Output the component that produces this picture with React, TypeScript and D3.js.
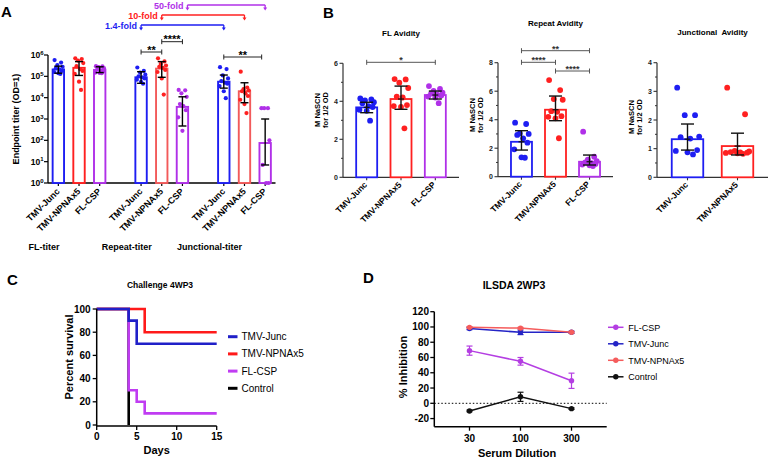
import React from "react";
import * as d3 from "d3";

const FONT = "'Liberation Sans', Arial, Helvetica, sans-serif";

const BLUE = "#1e1ef2";
const RED = "#ff2020";
const RED_LIGHT = "#f25a5a";
const PURPLE = "#b030e8";

// ---------------- Panel A : endpoint titers ----------------
const titerCategories = ["TMV-Junc", "TMV-NPNAx5", "FL-CSP"];
const titerGroups = ["FL-titer", "Repeat-titer", "Junctional-titer"];
const titerTicks = [1, 10, 100, 1e3, 1e4, 1e5, 1e6];

const flTiterMean = [2.1e5, 2.5e5, 2.0e5];
const flTiterHi = [3.0e5, 4.9e5, 2.8e5];
const flTiterLo = [1.4e5, 1.1e5, 1.5e5];
const flTiterPoints = [
  [5.8e5, 4.4e5, 3.4e5, 2.8e5, 2.4e5, 2.1e5, 1.8e5, 1.6e5, 1.4e5, 1.3e5],
  [7.0e5, 6.5e5, 5.5e5, 4.2e5, 3.0e5, 2.2e5, 1.8e5, 1.3e5, 5.6e4, 2.3e4],
  [3.0e5, 2.9e5, 2.7e5, 2.4e5, 2.1e5, 1.9e5, 1.7e5, 1.5e5, 1.45e5, 1.4e5],
];

const repeatTiterMean = [9.0e4, 2.3e5, 3.7e3];
const repeatTiterHi = [1.65e5, 4.9e5, 1.1e4];
const repeatTiterLo = [4.7e4, 9.0e4, 4.7e2];
const repeatTiterPoints = [
  [2.6e5, 1.8e5, 1.5e5, 1.2e5, 1.0e5, 9.0e4, 8.0e4, 7.0e4, 5.5e4, 4.5e4],
  [7.0e5, 5.0e5, 3.8e5, 3.2e5, 2.8e5, 2.5e5, 2.0e5, 1.6e5, 8.0e4, 1.4e4],
  [2.3e4, 2.2e4, 1.6e4, 1.1e4, 5.0e3, 4.0e3, 2.6e3, 1.2e3, 2.8e2],
];

const juncTiterMean = [5.6e4, 2.0e4, 75];
const juncTiterHi = [1.15e5, 5.0e4, 1.0e3];
const juncTiterLo = [2.8e4, 5.8e3, 7];
const juncTiterPoints = [
  [2.7e5, 2.2e5, 1.1e5, 8.0e4, 6.0e4, 5.0e4, 4.5e4, 3.5e4, 2.0e4, 9.5e3],
  [1.65e5, 3.0e4, 2.5e4, 2.2e4, 2.0e4, 1.6e4, 1.2e4, 8.0e3, 5.0e3, 1.9e3],
  [3.2e3, 3.2e3, 3.2e3, 100, 7, 1, 1],
];

const foldLabels = ["1.4-fold", "10-fold", "50-fold"];

// ---------------- Panel B : avidity ----------------
const avCats3 = ["TMV-Junc", "TMV-NPNAx5", "FL-CSP"];
const avCats2 = ["TMV-Junc", "TMV-NPNAx5"];

const flAvMean = [3.68, 4.12, 4.33];
const flAvHi = [3.95, 4.8, 4.54];
const flAvLo = [3.4, 3.58, 4.12];
const flAvPoints = [
  [4.15, 4.1, 4.05, 3.95, 3.9, 3.75, 3.7, 3.55, 3.5, 2.98],
  [5.17, 5.15, 4.98, 4.7, 4.25, 4.2, 3.8, 3.75, 3.7, 2.58],
  [4.8, 4.65, 4.55, 4.45, 4.4, 4.35, 4.3, 4.25, 4.2, 3.9],
];

const repAvMean = [2.45, 4.7, 1.05];
const repAvHi = [3.23, 5.66, 1.52];
const repAvLo = [1.87, 3.93, 0.82];
const repAvPoints = [
  [3.79, 3.7, 3.04, 3.0, 2.93, 2.69, 2.39, 1.92, 1.36, 1.33],
  [6.78, 6.08, 5.45, 5.4, 4.6, 4.55, 4.25, 4.2, 4.1, 2.7],
  [3.16, 1.4, 1.2, 1.1, 1.0, 0.95, 0.9, 0.85, 0.8, 0.75],
];

const juncAvMean = [1.33, 1.09];
const juncAvHi = [1.86, 1.54];
const juncAvLo = [0.95, 0.78];
const juncAvPoints = [
  [3.13, 2.17, 2.17, 1.42, 1.4, 1.35, 0.95, 0.92, 0.87, 0.8],
  [3.13, 2.2, 0.92, 0.9, 0.88, 0.87, 0.86, 0.85, 0.84, 0.82],
];

// ---------------- Panel C : survival ----------------
const survNames = ["TMV-Junc", "TMV-NPNAx5", "FL-CSP", "Control"];
const survJuncDays = [0, 4, 5, 15];
const survJuncPct = [100, 90, 70, 70];
const survNpnaDays = [0, 6, 15];
const survNpnaPct = [100, 80, 80];
const survFlDays = [0, 4, 5, 6, 15];
const survFlPct = [100, 30, 20, 10, 10];
const survCtrlDays = [0, 4];
const survCtrlPct = [100, 0];
const survXTicks = [0, 5, 10, 15];
const survYTicks = [0, 20, 40, 60, 80, 100];

// ---------------- Panel D : ILSDA ----------------
const dilutions = ["30", "100", "300"];
const ilsdaNames = ["FL-CSP", "TMV-Junc", "TMV-NPNAx5", "Control"];
const ilsdaFl = [69, 55, 29.5];
const ilsdaFlErr = [6, 5, 10];
const ilsdaJunc = [98, 93, 93];
const ilsdaJuncErr = [1.5, 3, 1.5];
const ilsdaNpna = [99.5, 98.5, 93];
const ilsdaNpnaErr = [1, 1, 1];
const ilsdaCtrl = [-10, 8.5, -7];
const ilsdaCtrlErr = [1, 6, 1];
const ilsdaYTicks = [-20, 0, 20, 40, 60, 80, 100, 120];

// horizontal spread pattern for scatter dots (layout only)
const spread = [-0.75, 0.55, -0.2, 0.85, -0.5, 0.2, 0.7, -0.85, 0.0, 0.4];

function PanelA() {
  const x = d3.scalePoint<number>().domain(d3.range(11)).range([48, 275.5]).padding(0.5);
  const y = d3.scaleLog().domain([1, 1e6]).range([183, 55]);
  const slot = (g: number, c: number) => g * 4 + c;
  const colors = [BLUE, RED, PURPLE];
  const groups = [
    { mean: flTiterMean, hi: flTiterHi, lo: flTiterLo, pts: flTiterPoints, bar: [BLUE, RED, PURPLE] },
    { mean: repeatTiterMean, hi: repeatTiterHi, lo: repeatTiterLo, pts: repeatTiterPoints, bar: [BLUE, RED_LIGHT, PURPLE] },
    { mean: juncTiterMean, hi: juncTiterHi, lo: juncTiterLo, pts: juncTiterPoints, bar: [BLUE, RED_LIGHT, PURPLE] },
  ];
  const y0 = 183;
  const bw = 11.4;
  const sig = [
    { a: slot(1, 0), b: slot(1, 1), ly: 52, t: "**" },
    { a: slot(1, 1), b: slot(1, 2), ly: 41.7, t: "****" },
    { a: slot(2, 0), b: slot(2, 2), ly: 57, t: "**" },
  ];
  const folds = [
    { c: 0, ly: 25, col: BLUE },
    { c: 1, ly: 15, col: RED },
    { c: 2, ly: 5, col: PURPLE },
  ];
  return (
    <g>
      <text x={1} y={17} fontSize={15} fontWeight="bold">A</text>
      {/* y axis */}
      <line x1={48} x2={48} y1={55} y2={y0} stroke="#000" strokeWidth={1.3} />
      {titerTicks.map((t, i) => (
        <g key={i}>
          <line x1={44} x2={48} y1={y(t)} y2={y(t)} stroke="#000" strokeWidth={1.2} />
          <text x={43.5} y={y(t) + 3} textAnchor="end" fontSize={8.5} fontWeight="bold">
            10<tspan dy={-3.5} fontSize={6}>{i}</tspan>
          </text>
        </g>
      ))}
      <text transform={`translate(19,119) rotate(-90)`} textAnchor="middle" fontSize={9} fontWeight="bold">
        Endpoint titer (OD=1)
      </text>
      {/* x axis */}
      <line x1={48} x2={275.5} y1={y0} y2={y0} stroke="#000" strokeWidth={1.3} />
      {groups.map((g, gi) =>
        titerCategories.map((cat, ci) => {
          const cx = x(slot(gi, ci))!;
          return (
            <g key={`${gi}-${ci}`}>
              <line x1={cx} x2={cx} y1={y0} y2={y0 + 3} stroke="#000" strokeWidth={1.2} />
              <text transform={`translate(${cx + 2},${y0 + 9}) rotate(-45)`} textAnchor="end" fontSize={9} fontWeight="bold">
                {cat}
              </text>
              <rect x={cx - bw / 2} y={y(g.mean[ci])} width={bw} height={y0 - y(g.mean[ci])} fill="#fff" stroke={g.bar[ci]} strokeWidth={1.9} />
              {g.pts[ci].map((v, pi) => (
                <circle key={pi} cx={cx + spread[pi % spread.length] * 5} cy={y(v)} r={2.1} fill={colors[ci]} />
              ))}
              <line x1={cx} x2={cx} y1={y(g.hi[ci])} y2={y(g.lo[ci])} stroke="#000" strokeWidth={1.4} />
              <line x1={cx - 4} x2={cx + 4} y1={y(g.hi[ci])} y2={y(g.hi[ci])} stroke="#000" strokeWidth={1.4} />
              <line x1={cx - 4} x2={cx + 4} y1={y(g.lo[ci])} y2={y(g.lo[ci])} stroke="#000" strokeWidth={1.4} />
            </g>
          );
        })
      )}
      {titerGroups.map((gname, gi) => (
        <text key={gname} x={x(slot(gi, 1))! - 35} y={250} textAnchor="middle" fontSize={9} fontWeight="bold">
          {gname}
        </text>
      ))}
      {sig.map((s, i) => {
        const xa = x(s.a)!, xb = x(s.b)! - (i === 2 ? 3.5 : 0);
        return (
          <g key={i}>
            <line x1={xa} x2={xb} y1={s.ly} y2={s.ly} stroke="#222" strokeWidth={1} />
            <line x1={xa} x2={xa} y1={s.ly - 2.5} y2={s.ly + 2.5} stroke="#222" strokeWidth={1} />
            <line x1={xb} x2={xb} y1={s.ly - 2.5} y2={s.ly + 2.5} stroke="#222" strokeWidth={1} />
            <text x={(xa + xb) / 2} y={s.ly + 1.5} textAnchor="middle" fontSize={11} fontWeight="bold">{s.t}</text>
          </g>
        );
      })}
      {folds.map((f, i) => {
        const xa = x(slot(1, f.c))! + (f.c === 2 ? 5 : 0);
        const xb = x(slot(2, f.c))!;
        return (
          <g key={i}>
            <line x1={xa} x2={xb} y1={f.ly} y2={f.ly} stroke={f.col} strokeWidth={1.3} />
            {[xa, xb].map((xx, k) => (
              <g key={k}>
                <line x1={xx} x2={xx} y1={f.ly} y2={f.ly + 3} stroke={f.col} strokeWidth={1.3} />
                <path d={`M${xx - 2},${f.ly + 2.5}L${xx + 2},${f.ly + 2.5}L${xx},${f.ly + 5.5}Z`} fill={f.col} />
              </g>
            ))}
            <text x={xa - 4} y={f.ly + 3.5} textAnchor="end" fontSize={9} fontWeight="bold" fill={f.col}>
              {foldLabels[i]}
            </text>
          </g>
        );
      })}
    </g>
  );
}

type AvProps = {
  axisX: number; axisEnd: number; y0: number; y1: number; max: number;
  major: number[]; minor: number[]; cats: string[]; mean: number[]; hi: number[]; lo: number[];
  pts: number[][]; barW: number; padding: number; title: string; titleY: number; labelY: number;
  sig: { a: number; b: number; ly: number; t: string }[];
};

function Avidity(p: AvProps) {
  const x = d3.scalePoint<string>().domain(p.cats).range([p.axisX, p.axisEnd]).padding(p.padding);
  const y = d3.scaleLinear().domain([0, p.max]).range([p.y0, p.y1]);
  const colors = [BLUE, RED, PURPLE];
  const cap = 6.5;
  return (
    <g>
      <text x={(p.axisX + p.axisEnd) / 2} y={p.titleY} textAnchor="middle" fontSize={8} fontWeight="bold" style={{ whiteSpace: "pre" }}>
        {p.title}
      </text>
      <line x1={p.axisX} x2={p.axisX} y1={p.y1} y2={p.y0} stroke="#333" strokeWidth={1.2} />
      <line x1={p.axisX} x2={p.axisEnd} y1={p.y0} y2={p.y0} stroke="#333" strokeWidth={1.2} />
      {p.major.map((t) => (
        <g key={t}>
          <line x1={p.axisX - 3.5} x2={p.axisX} y1={y(t)} y2={y(t)} stroke="#333" strokeWidth={1.1} />
          <text x={p.axisX - 5} y={y(t) + 2.5} textAnchor="end" fontSize={7} fontWeight="bold" fill="#222">{t}</text>
        </g>
      ))}
      {p.minor.map((t) => (
        <line key={t} x1={p.axisX - 2} x2={p.axisX} y1={y(t)} y2={y(t)} stroke="#333" strokeWidth={1} />
      ))}
      <text transform={`translate(${p.axisX - 23.5},${p.labelY}) rotate(-90)`} textAnchor="middle" fontSize={7.5} fontWeight="bold">
        M NaSCN
      </text>
      <text transform={`translate(${p.axisX - 15.5},${p.labelY}) rotate(-90)`} textAnchor="middle" fontSize={7.5} fontWeight="bold">
        for 1/2 OD
      </text>
      {p.cats.map((c, ci) => {
        const cx = x(c)!;
        return (
          <g key={c}>
            <line x1={cx} x2={cx} y1={p.y0} y2={p.y0 + 3} stroke="#333" strokeWidth={1.1} />
            <text transform={`translate(${cx + 1},${p.y0 + 8}) rotate(-45)`} textAnchor="end" fontSize={8.5} fontWeight="bold">
              {c}
            </text>
            <rect x={p.axisX === 0 ? 0 : cx - p.barW / 2} y={y(p.mean[ci])} width={p.barW} height={p.y0 - y(p.mean[ci])} fill="#fff" stroke={colors[ci]} strokeWidth={1.8} />
            {p.pts[ci].map((v, pi) => (
              <circle key={pi} cx={cx + spread[pi % spread.length] * (p.barW / 2 - 2)} cy={y(v)} r={2.9} fill={colors[ci]} />
            ))}
            <line x1={cx} x2={cx} y1={y(p.hi[ci])} y2={y(p.lo[ci])} stroke="#111" strokeWidth={1.4} />
            <line x1={cx - cap} x2={cx + cap} y1={y(p.hi[ci])} y2={y(p.hi[ci])} stroke="#111" strokeWidth={1.4} />
            <line x1={cx - cap} x2={cx + cap} y1={y(p.lo[ci])} y2={y(p.lo[ci])} stroke="#111" strokeWidth={1.4} />
            <line x1={cx - 3} x2={cx + 3} y1={y(p.mean[ci])} y2={y(p.mean[ci])} stroke="#111" strokeWidth={1.2} />
          </g>
        );
      })}
      {p.sig.map((s, i) => {
        const xa = x(p.cats[s.a])!, xb = x(p.cats[s.b])!;
        return (
          <g key={i}>
            <line x1={xa} x2={xb} y1={s.ly} y2={s.ly} stroke="#555" strokeWidth={1} />
            <line x1={xa} x2={xa} y1={s.ly - 2.5} y2={s.ly + 2.5} stroke="#555" strokeWidth={1} />
            <line x1={xb} x2={xb} y1={s.ly - 2.5} y2={s.ly + 2.5} stroke="#555" strokeWidth={1} />
            <text x={(xa + xb) / 2} y={s.ly + 1} textAnchor="middle" fontSize={9} fontWeight="bold" fill="#333">{s.t}</text>
          </g>
        );
      })}
    </g>
  );
}

function PanelB() {
  return (
    <g>
      <text x={323} y={18} fontSize={15} fontWeight="bold">B</text>
      <Avidity axisX={343} axisEnd={459} y0={177.3} y1={63.3} max={6} major={[0, 2, 4, 6]} minor={[1, 3, 5]}
        cats={avCats3} mean={flAvMean} hi={flAvHi} lo={flAvLo} pts={flAvPoints} barW={21} padding={0.69}
        title="FL Avidity" titleY={36} labelY={110} sig={[{ a: 0, b: 2, ly: 62.3, t: "*" }]} />
      <Avidity axisX={498} axisEnd={613} y0={176.7} y1={62.7} max={8} major={[0, 2, 4, 6, 8]} minor={[1, 3, 5, 7]}
        cats={avCats3} mean={repAvMean} hi={repAvHi} lo={repAvLo} pts={repAvPoints} barW={21} padding={0.69}
        title="Repeat Avidity" titleY={26} labelY={115}
        sig={[{ a: 0, b: 1, ly: 62.3, t: "****" }, { a: 0, b: 2, ly: 50.7, t: "**" }, { a: 1, b: 2, ly: 71, t: "****" }]} />
      <Avidity axisX={657} axisEnd={768} y0={177.3} y1={62.7} max={4} major={[0, 1, 2, 3, 4]} minor={[0.5, 1.5, 2.5, 3.5]}
        cats={avCats2} mean={juncAvMean} hi={juncAvHi} lo={juncAvLo} pts={juncAvPoints} barW={31.5} padding={0.61}
        title={"Junctional  Avidity"} titleY={35} labelY={117} sig={[]} />
    </g>
  );
}

function PanelC() {
  const x = d3.scaleLinear().domain([0, 15]).range([96.7, 216.7]);
  const y = d3.scaleLinear().domain([0, 100]).range([425, 309]);
  const line = d3.line<[number, number]>().x((d) => x(d[0])).y((d) => y(d[1])).curve(d3.curveStepAfter);
  const series = [
    { days: survCtrlDays, pct: survCtrlPct, col: "#000" },
    { days: survFlDays, pct: survFlPct, col: "#c03cf2" },
    { days: survNpnaDays, pct: survNpnaPct, col: "#ff1a1a" },
    { days: survJuncDays, pct: survJuncPct, col: "#2020c8" },
  ];
  const legendCols = ["#2020c8", "#ff1a1a", "#c03cf2", "#000"];
  return (
    <g>
      <text x={7} y={285} fontSize={15} fontWeight="bold">C</text>
      <text x={160} y={288} textAnchor="middle" fontSize={8.5} fontWeight="bold">Challenge 4WP3</text>
      {series.map((s, i) => (
        <path key={i} d={line(s.days.map((d, k) => [d, s.pct[k]]))!} fill="none" stroke={s.col} strokeWidth={2.6} />
      ))}
      <line x1={x(0)} x2={x(0)} y1={309} y2={426} stroke="#000" strokeWidth={1.5} />
      <line x1={x(0)} x2={x(15)} y1={426} y2={426} stroke="#000" strokeWidth={1.5} />
      {survYTicks.map((t) => (
        <g key={t}>
          <line x1={x(0) - 4} x2={x(0)} y1={y(t)} y2={y(t)} stroke="#000" strokeWidth={1.3} />
          <text x={x(0) - 6} y={y(t) + 3.5} textAnchor="end" fontSize={10} fontWeight="bold">{t}</text>
        </g>
      ))}
      {survXTicks.map((t) => (
        <g key={t}>
          <line x1={x(t)} x2={x(t)} y1={426} y2={430} stroke="#000" strokeWidth={1.3} />
          <text x={x(t)} y={440} textAnchor="middle" fontSize={10} fontWeight="bold">{t}</text>
        </g>
      ))}
      <text x={156.7} y={454} textAnchor="middle" fontSize={11} fontWeight="bold">Days</text>
      <text transform="translate(73,357) rotate(-90)" textAnchor="middle" fontSize={11} fontWeight="bold">Percent survival</text>
      {survNames.map((n, i) => {
        const ly = 336.7 + i * 17.2;
        return (
          <g key={n}>
            <line x1={228} x2={237.5} y1={ly} y2={ly} stroke={legendCols[i]} strokeWidth={3} />
            <text x={241.5} y={ly + 3.5} fontSize={10}>{n}</text>
          </g>
        );
      })}
    </g>
  );
}

function PanelD() {
  const x = d3.scalePoint<string>().domain(dilutions).range([434.3, 606.7]).padding(0.69);
  const y = d3.scaleLinear().domain([-30, 120]).range([426.2, 311.7]);
  const series = [
    { v: ilsdaCtrl, e: ilsdaCtrlErr, col: "#111" },
    { v: ilsdaFl, e: ilsdaFlErr, col: "#b43ee2" },
    { v: ilsdaJunc, e: ilsdaJuncErr, col: "#2424c6" },
    { v: ilsdaNpna, e: ilsdaNpnaErr, col: "#f55c5c" },
  ];
  const legendCols = ["#b43ee2", "#2424c6", "#f55c5c", "#111"];
  const line = d3.line<number>().x((_, i) => x(dilutions[i])!).y((d) => y(d));
  return (
    <g>
      <text x={363} y={283} fontSize={15} fontWeight="bold">D</text>
      <text x={514} y={289} textAnchor="middle" fontSize={10.5} fontWeight="bold">ILSDA 2WP3</text>
      <line x1={434.3} x2={606.7} y1={y(0)} y2={y(0)} stroke="#000" strokeWidth={1} strokeDasharray="1.5,2" />
      {series.map((s, i) => (
        <g key={i}>
          <path d={line(s.v)!} fill="none" stroke={s.col} strokeWidth={1.5} />
          {s.v.map((v, k) => {
            const cx = x(dilutions[k])!;
            return (
              <g key={k}>
                <line x1={cx} x2={cx} y1={y(v + s.e[k])} y2={y(v - s.e[k])} stroke={s.col} strokeWidth={1.2} />
                <line x1={cx - 3} x2={cx + 3} y1={y(v + s.e[k])} y2={y(v + s.e[k])} stroke={s.col} strokeWidth={1.2} />
                <line x1={cx - 3} x2={cx + 3} y1={y(v - s.e[k])} y2={y(v - s.e[k])} stroke={s.col} strokeWidth={1.2} />
                <circle cx={cx} cy={y(v)} r={2.7} fill={s.col} />
              </g>
            );
          })}
        </g>
      ))}
      <line x1={434.3} x2={434.3} y1={311.7} y2={426.7} stroke="#000" strokeWidth={1.5} />
      <line x1={434.3} x2={606.7} y1={426.7} y2={426.7} stroke="#000" strokeWidth={1.5} />
      {ilsdaYTicks.map((t) => (
        <g key={t}>
          <line x1={430.3} x2={434.3} y1={y(t)} y2={y(t)} stroke="#000" strokeWidth={1.3} />
          <text x={429} y={y(t) + 3.5} textAnchor="end" fontSize={10} fontWeight="bold">{t}</text>
        </g>
      ))}
      {dilutions.map((d) => (
        <g key={d}>
          <line x1={x(d)!} x2={x(d)!} y1={426.7} y2={430.7} stroke="#000" strokeWidth={1.3} />
          <text x={x(d)!} y={441.5} textAnchor="middle" fontSize={10} fontWeight="bold">{d}</text>
        </g>
      ))}
      <text x={517} y={456.5} textAnchor="middle" fontSize={11} fontWeight="bold">Serum Dilution</text>
      <text transform="translate(407,367) rotate(-90)" textAnchor="middle" fontSize={11} fontWeight="bold">% Inhibition</text>
      {ilsdaNames.map((n, i) => {
        const ly = 327.3 + i * 16.5;
        return (
          <g key={n}>
            <line x1={608} x2={623.5} y1={ly} y2={ly} stroke={legendCols[i]} strokeWidth={1.5} />
            <circle cx={615.8} cy={ly} r={2.7} fill={legendCols[i]} />
            <text x={628.3} y={ly + 3.3} fontSize={9}>{n}</text>
          </g>
        );
      })}
    </g>
  );
}

export default function App() {
  return (
    <svg width={770} height={458} viewBox="0 0 770 458"
      style={{ position: "absolute", left: 0, top: 0, background: "#fff", fontFamily: FONT }}>
      <rect width={770} height={458} fill="#fff" />
      <PanelA />
      <PanelB />
      <PanelC />
      <PanelD />
    </svg>
  );
}
